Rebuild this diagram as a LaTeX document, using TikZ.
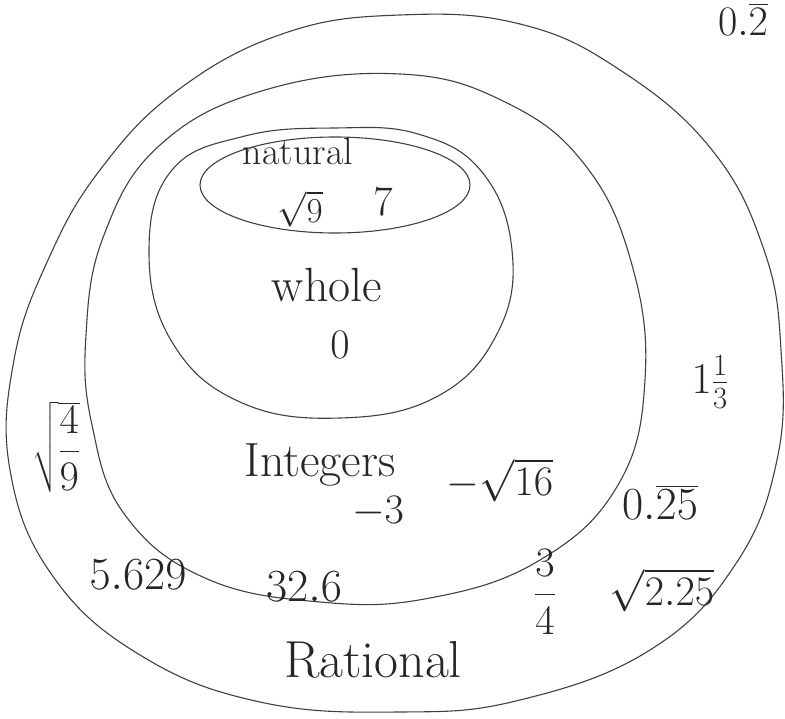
\RequirePackage{fix-cm}
\documentclass[tikz,border=0pt]{standalone}
\usepackage{amsmath}
\usepackage{fontspec}
\begin{document}
\begin{tikzpicture}[x=1pt,y=-1pt,
  setline/.style={draw=black!75,line width=1.1pt,smooth cycle,tension=0.7},
  lbl/.style={text=black!85,inner sep=0pt,font=\fontsize{48}{52}\selectfont},
  num/.style={text=black!85,inner sep=0pt,font=\fontsize{42}{46}\selectfont}]
\useasboundingbox (0,0) rectangle (785,719);
% Rational
\draw[setline] plot coordinates {(400,15) (520,24) (620,70) (712,150) (764,250) (781,350) (777,460) (735,565) (650,650) (520,700) (400,712) (260,702) (140,655) (52,575) (10,470) (14,360) (48,260) (100,170) (178,90) (285,33)};
% Integers
\draw[setline] plot coordinates {(400,74) (505,102) (585,165) (632,265) (645,380) (618,485) (540,560) (430,598) (320,602) (205,578) (125,515) (92,425) (86,335) (104,235) (160,145) (265,90)};
% Whole
\draw[setline] plot coordinates {(418,134) (482,172) (512,250) (498,332) (438,396) (340,418) (240,402) (172,342) (149,252) (172,170) (245,136) (335,128)};
% Natural
\draw[setline] (335,185) ellipse [x radius=135, y radius=48];
% labels
\node[lbl,font=\fontsize{38}{42}\selectfont] (natural) at (298,151) {natural};
\node[num,font=\fontsize{35}{40}\selectfont] (sqrtnine) at (300,209) {$\sqrt{9}$};
\node[num] (seven) at (383,202) {$7$};
\node[lbl] (whole) at (327,285) {whole};
\node[num] (zero) at (340,345) {$0$};
\node[num,font=\fontsize{44}{48}\selectfont] (onethird) at (710,382) {$1\tfrac{1}{3}$};
\node[num,font=\fontsize{42}{46}\selectfont] (sqrtfrac) at (56,447) {$\sqrt{\dfrac{4}{9}}$};
\node[lbl] (integers) at (320,465) {Integers};
\node[num] (msqrt) at (500,480) {$-\sqrt{16}$};
\node[num] (mthree) at (378,512) {$-3$};
\node[num,font=\fontsize{46}{50}\selectfont] (rep25) at (660,502) {$0.\overline{25}$};
\node[num,font=\fontsize{46}{50}\selectfont] (fivesix) at (138,575) {$5.629$};
\node[num,font=\fontsize{46}{50}\selectfont] (thirtytwo) at (304,587) {$32.6$};
\node[num] (threefour) at (545,592) {$\dfrac{3}{4}$};
\node[num] (sqrtwo) at (662,590) {$\sqrt{2.25}$};
\node[lbl,font=\fontsize{52}{56}\selectfont] (rational) at (373,660) {Rational};
\node[num,anchor=north] (reptwo) at (743,3) {$0.\overline{2}$};
\end{tikzpicture}
\end{document}
